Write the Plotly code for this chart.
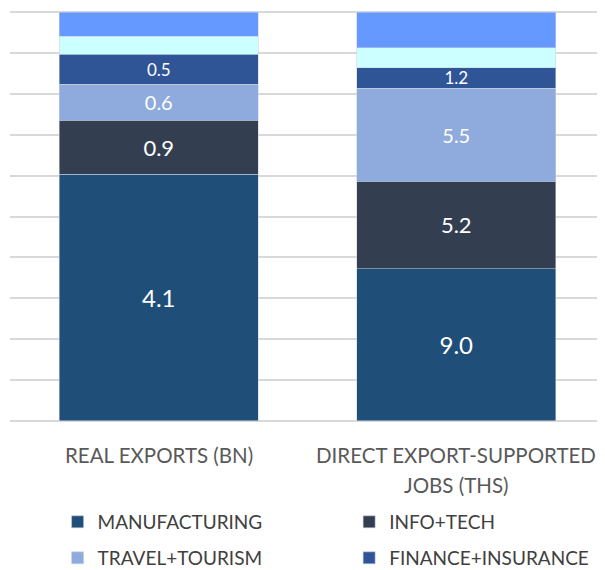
import plotly.graph_objects as go

categories = ["REAL EXPORTS (BN)", "DIRECT EXPORT-SUPPORTED JOBS (THS)"]
series_names = ["MANUFACTURING", "INFO+TECH", "TRAVEL+TOURISM", "FINANCE+INSURANCE", "OTHER A", "OTHER B"]
manufacturing = [4.1, 9.0]
info_tech = [0.9, 5.2]
travel_tourism = [0.6, 5.5]
finance_insurance = [0.5, 1.2]
other_a = [0.3, 1.2]
other_b = [0.4, 2.1]
label_lines = [["REAL EXPORTS (BN)"], ["DIRECT EXPORT-SUPPORTED", "JOBS (THS)"]]

colors = ["#1F4E79", "#333F50", "#8FAADC", "#2F5597", "#CCFFFF", "#6699FF"]
label_sizes = [24, 22, 20, 17, None, None]
legend_ids = ["legend", "legend2", "legend3", "legend4", None, None]
all_values = [manufacturing, info_tech, travel_tourism, finance_insurance, other_a, other_b]

FONT = "Lato, 'Open Sans', sans-serif"

fig = go.Figure()
for name, vals, col, fs, lg in zip(series_names, all_values, colors, label_sizes, legend_ids):
    kw = {}
    if fs is not None:
        kw = dict(text=[f"{v:.1f}" for v in vals], textposition="inside",
                  insidetextanchor="middle", constraintext="none",
                  textfont=dict(color="white", size=fs, family=FONT), textangle=0)
    fig.add_trace(go.Bar(
        x=categories, y=vals, name=name,
        marker=dict(color=col, line=dict(color="rgba(200,210,225,0.7)", width=0.75)),
        showlegend=lg is not None, legend=lg if lg else "legend",
        **kw))

annotations = []
for cat, lines in zip(categories, label_lines):
    for i, ln in enumerate(lines):
        annotations.append(dict(x=cat, xref="x", y=0, yref="paper", yanchor="middle",
                                yshift=-33 - 30 * i, text=ln, showarrow=False,
                                font=dict(family=FONT, size=20.5, color="#595959")))

def leg(x, y):
    return dict(orientation="h", x=x, xanchor="left", y=y, yanchor="middle",
                font=dict(family=FONT, size=19, color="#404040"),
                itemwidth=30, bgcolor="rgba(0,0,0,0)")

fig.update_layout(
    width=597, height=562,
    margin=dict(l=2, r=0, t=3, b=148, autoexpand=False),
    barmode="stack", barnorm="percent", bargap=0.33,
    plot_bgcolor="white", paper_bgcolor="white",
    font=dict(family=FONT, color="#595959"),
    annotations=annotations,
    xaxis=dict(showticklabels=False, showgrid=False, showline=False, zeroline=False),
    yaxis=dict(range=[-0.25, 100.25], tickvals=list(range(0, 101, 10)), showgrid=True,
               gridcolor="#D9D9D9", gridwidth=1.5,
               showticklabels=False, zeroline=False, showline=False),
    legend=leg(0.080, -0.2433),
    legend2=leg(0.570, -0.2433),
    legend3=leg(0.080, -0.3309),
    legend4=leg(0.570, -0.3309),
)

fig.write_html("out.html")
